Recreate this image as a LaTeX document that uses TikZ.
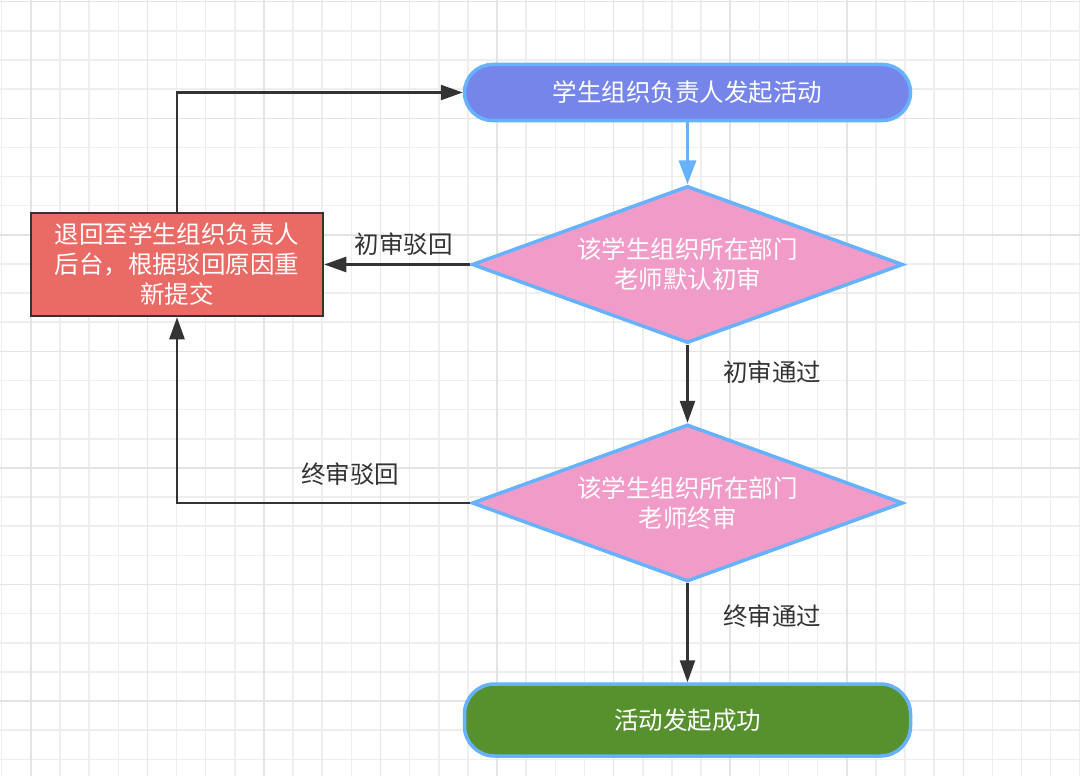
\documentclass[tikz,border=0pt]{standalone}
\usepackage{fontspec}
\setmainfont{Noto Sans CJK SC}
\usepackage{xcolor}
\usetikzlibrary{shapes.geometric}
\usetikzlibrary{positioning}
\usetikzlibrary{arrows.meta,calc}

\definecolor{bleu}{HTML}{66B2FF}
\definecolor{lavande}{HTML}{7585E9}
\definecolor{rose}{HTML}{F09BC8}
\definecolor{rouge}{HTML}{EA6B66}
\definecolor{vert}{HTML}{56912E}
\definecolor{fonce}{HTML}{333333}
\definecolor{grille}{HTML}{EEEEEE}
\definecolor{grillef}{HTML}{E4E4E4}

\begin{document}
\begin{tikzpicture} [
  x = 1pt, y = -1pt,
  font = \fontsize{24.5}{30}\selectfont,
  term/.style = {rectangle, rounded corners = 28pt, draw = bleu, line width = 3.5pt, fill = lavande, text = white, minimum width = 446pt, minimum height = 56pt},
  choix/.style = {diamond, aspect = 2.8, draw = bleu, line width = 3.5pt, fill = rose, text = white, minimum width = 431pt, minimum height = 157pt, inner sep = 0pt, align = center},
  boite/.style = {rectangle, draw = fonce, line width = 2.5pt, fill = rouge, text = white, minimum width = 292pt, minimum height = 103pt, inner sep = 0pt, align = center},
  lbl/.style = {text = fonce},
  line/.style = {draw = fonce, line width = 2.5pt, -{Triangle[length = 22pt, width = 15pt]}},
  bline/.style = {draw = bleu, line width = 3.5pt, -{Triangle[length = 24pt, width = 17pt]}},
]

\useasboundingbox [fill = white] (0,0) rectangle (1080,776);

% grille
\foreach \i in {0,...,37}
  \draw [grille, line width = 1.5pt] ({1.7 + 29.14*\i},0) -- ++(0,776);
\foreach \i in {0,...,26}
  \draw [grille, line width = 1.5pt] (0,{1.7 + 29.14*\i}) -- ++(1080,0);
\foreach \i in {1,5,...,33}
  \draw [grillef, line width = 1.5pt] ({1.7 + 29.14*\i},0) -- ++(0,776);
\foreach \i in {0,4,...,24}
  \draw [grillef, line width = 1.5pt] (0,{1.7 + 29.14*\i}) -- ++(1080,0);

 \node [term] (deb) at (687.5,92.5) {学生组织负责人发起活动};
 \node [choix, below = 62pt of deb] (ch1) {该学生组织所在部门\\老师默认初审};
 \node [choix, below = 78pt of ch1] (ch2) {该学生组织所在部门\\老师终审};
 \node [term, fill = vert, rounded corners = 30pt, minimum height = 72pt, below = 99pt of ch2] (fin) {活动发起成功};

 \node [boite, left = 146pt of ch1] (ret) {退回至学生组织负责人\\后台，根据驳回原因重\\新提交};

 \draw [bline] (deb) -- (ch1);

 \begin{scope}[every path/.style=line]
\path (ch1) -- node [lbl, above = 4pt, xshift = 6.5pt] {初审驳回} (ret);
\path (ch1) -- node [lbl, right = 31pt, pos = 0.35] {初审通过} (ch2);
\path (ch2) -- node [lbl, right = 31pt, pos = 0.33] {终审通过} (fin);
\path (ch2.west) -| node [lbl, above = 13pt, pos = 0.205] {终审驳回} (ret.south);
\path (ret.north) |- (deb.west);
\end{scope}

\end{tikzpicture}
\end{document}
